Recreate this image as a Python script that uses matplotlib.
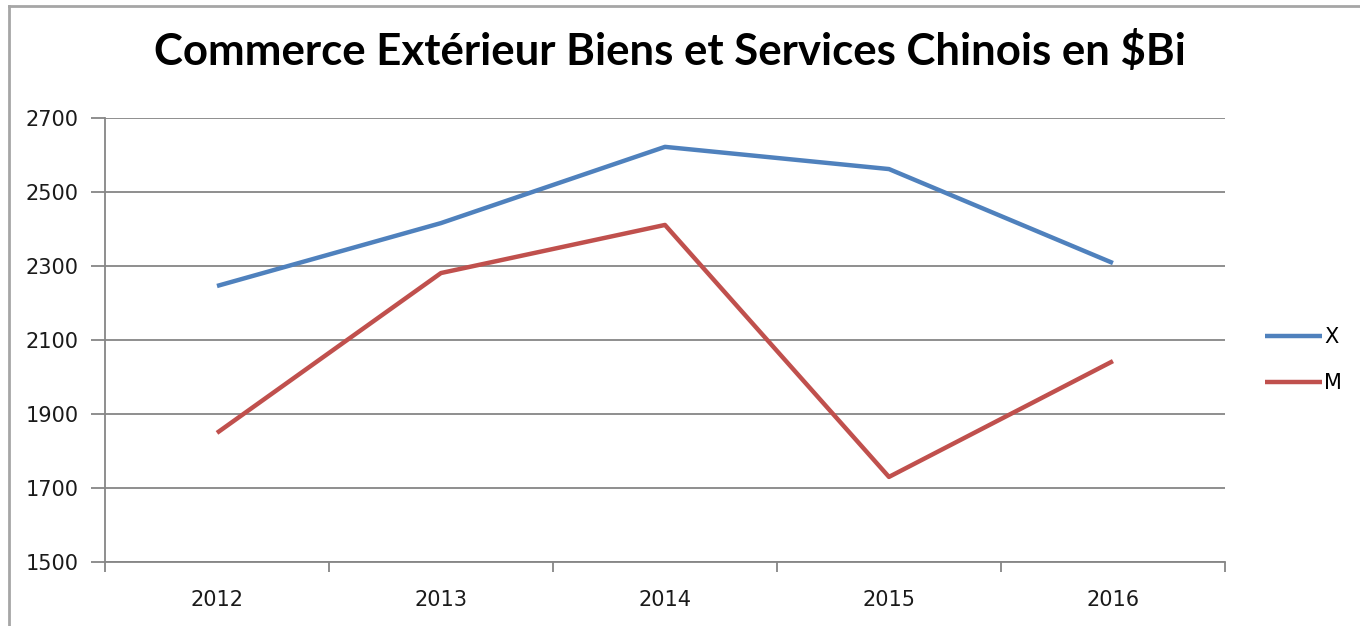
import matplotlib.pyplot as plt
from matplotlib.lines import Line2D

# Data
years = ['2012', '2013', '2014', '2015', '2016']
exports = [2246, 2416, 2622, 2562, 2308]
imports = [1849, 2281, 2411, 1730, 2043]

fig = plt.figure(figsize=(13.6, 6.26), dpi=100)
ax = fig.add_axes([0.0772, 0.1022, 0.8235, 0.7093])

idx = list(range(len(years)))
ax.plot(idx, exports, color='#4F81BD', lw=3.2, label='X', solid_capstyle='butt')
ax.plot(idx, imports, color='#C0504D', lw=3.2, label='M', solid_capstyle='butt')

ax.set_xlim(-0.5, len(years) - 0.5)
ax.set_ylim(1500, 2700)
ax.set_yticks(range(1500, 2701, 200))
ax.yaxis.grid(True, color='#868686', lw=1.3)
ax.set_axisbelow(True)

ax.set_xticks([i + 0.5 for i in range(-1, len(years))])
ax.set_xticklabels([])
ax.set_xticks(idx, minor=True)
ax.set_xticklabels(years, minor=True)
ax.tick_params(axis='x', which='major', length=7, color='#868686', width=1.3)
ax.tick_params(axis='x', which='minor', length=0, pad=20, labelsize=15, labelcolor='#1a1a1a')
ax.tick_params(axis='y', length=10, color='#868686', width=1.3, labelsize=15,
               labelcolor='#1a1a1a', pad=9)

for s in ['top', 'right']:
    ax.spines[s].set_visible(False)
for s in ['left', 'bottom']:
    ax.spines[s].set_color('#868686')
    ax.spines[s].set_linewidth(1.3)

fig.text(0.4925, 0.918, 'Commerce Extérieur Biens et Services Chinois en $Bi',
         ha='center', va='center', fontsize=31.5, fontweight='bold', family='Lato')

leg = ax.legend(loc='center left', bbox_to_anchor=(1.0357, 0.455), frameon=False,
                fontsize=15, handlelength=2.74, handletextpad=0.1,
                labelspacing=1.25, borderaxespad=0, borderpad=0)

# chart border
fig.add_artist(Line2D([0.0066, 0.0066], [0, 0.99], color='#A6A6A6', lw=2))
fig.add_artist(Line2D([0.0066, 1], [0.99, 0.99], color='#A6A6A6', lw=2))

fig.savefig('out.png', dpi=100, facecolor='white')
